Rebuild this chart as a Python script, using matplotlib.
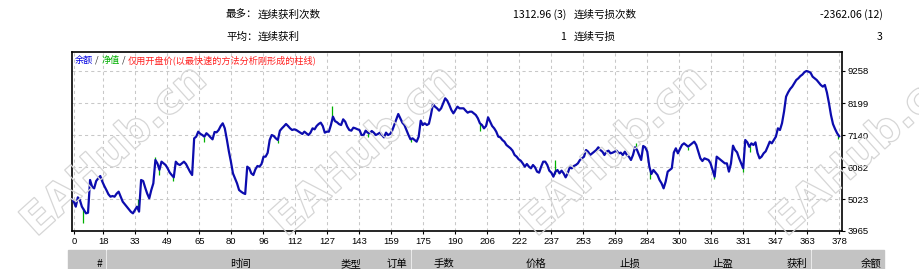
import matplotlib
matplotlib.use("Agg")
import numpy as np
import matplotlib.pyplot as plt
from matplotlib.patches import Rectangle, PathPatch
from matplotlib.textpath import TextPath
from matplotlib.font_manager import FontProperties
from matplotlib.transforms import Affine2D

plt.rcParams['font.family'] = ['Noto Sans CJK SC', 'DejaVu Sans']

# balance after each trade
balance = [
    5012, 4935, 4770, 5078, 4990, 4770, 4660, 4549, 4570, 5652,
    5430, 5376, 5620, 5707, 5784, 5600, 5450, 5320, 5180, 5100,
    5122, 5100, 5200, 5266, 5100, 4935, 4850, 4770, 4680, 4600,
    4549, 4660, 4770, 4605, 5652, 5620, 5400, 5200, 5046, 5321,
    5542, 6314, 6200, 5990, 6259, 6203, 6148, 6038, 5900, 5817,
    5740, 6258, 6181, 6148, 6203, 6258, 6181, 6050, 5920, 5817,
    7030, 7085, 7251, 7180, 7140, 7085, 7200, 7140, 7063, 6997,
    7240, 7230, 7306, 7438, 7527, 7361, 7000, 6600, 6258, 5872,
    5707, 5542, 5321, 5266, 5220, 5189, 6093, 6038, 5872, 5817,
    6005, 6115, 6093, 6181, 6424, 6424, 6550, 6975, 7140, 7107,
    7030, 6975, 7280, 7361, 7430, 7505, 7438, 7361, 7306, 7328,
    7306, 7260, 7218, 7174, 7251, 7196, 7140, 7218, 7361, 7328,
    7438, 7505, 7549, 7438, 7218, 7251, 7250, 7471, 7747, 7600,
    7560, 7500, 7471, 7659, 7582, 7416, 7306, 7284, 7383, 7361,
    7330, 7306, 7140, 7140, 7284, 7218, 7196, 7273, 7218, 7140,
    7174, 7218, 7140, 7063, 7218, 7140, 7174, 7284, 7471, 7659,
    7835, 7692, 7549, 7471, 7306, 7140, 6997, 7030, 6975, 6920,
    7085, 7615, 7471, 7527, 7471, 7510, 7802, 8166, 8078, 8023,
    7946, 8023, 8188, 8354, 8276, 8133, 7968, 7857, 7968, 8078,
    8023, 8023, 8023, 7946, 7879, 7912, 7912, 7857, 7802, 7692,
    7527, 7471, 7361, 7438, 7725, 7582, 7438, 7361, 7251, 7085,
    7063, 6975, 6920, 6810, 6755, 6700, 6622, 6479, 6424, 6336,
    6290, 6200, 6093, 6181, 6093, 6038, 6148, 6071, 5928, 5895,
    6093, 6258, 6258, 6150, 5961, 5895, 5762, 5928, 5983, 5872,
    5961, 5872, 5740, 5872, 6071, 6038, 6115, 6148, 6203, 6314,
    6369, 6424, 6644, 6589, 6479, 6534, 6589, 6644, 6733, 6644,
    6589, 6479, 6589, 6622, 6534, 6556, 6589, 6622, 6534, 6556,
    6479, 6589, 6479, 6424, 6314, 6479, 6733, 6644, 6480, 6314,
    6777, 6733, 6589, 6100, 5850, 5983, 5900, 5817, 5652, 5542,
    5376, 5597, 5928, 5983, 6038, 6560, 6700, 6534, 6677, 6810,
    6865, 6810, 6755, 6810, 6865, 6920, 6810, 6589, 6369, 6280,
    6369, 6340, 6314, 6203, 5983, 5762, 6424, 6369, 6314, 6259,
    6203, 6203, 5928, 6200, 6788, 6645, 6567, 6369, 6203, 6038,
    6975, 6900, 6750, 6865, 6810, 6898, 6550, 6369, 6424, 6534,
    6600, 6755, 6920, 6865, 6975, 7085, 7361, 7306, 7527, 7913,
    8409, 8550, 8662, 8740, 8850, 8960, 9015, 9090, 9140, 9220,
    9258, 9236, 9200, 9070, 9015, 8960, 8880, 8795, 8740, 8795,
    8550, 8200, 7800, 7500, 7340, 7200, 7100,
]

# equity excursions away from balance (green spikes)
eq_idx = [5.3, 32.3, 41, 42.6, 49.8, 65, 101, 127.5, 145, 166, 200,
          236.6, 276.3, 283.5, 302, 314.7, 328.7, 332.3, 375.6]
eq_val = [4218, 5012, 6400, 5817, 5630, 6920, 6865, 8100, 7063, 6920, 7284,
          6314, 6887, 5700, 6645, 5700, 5928, 6590, 7010]

y_ticks = [3965, 5023, 6082, 7140, 8199, 9258]
x_labels = ['0', '18', '33', '49', '65', '80', '96', '112', '127', '143', '159',
            '175', '190', '206', '222', '237', '253', '269', '284', '300',
            '316', '331', '347', '363', '378']

stats_left = [('最多：', '连续获利次数', '1312.96 (3)'),
              ('平均：', '连续获利', '1')]
stats_right = [('连续亏损次数', '-2362.06 (12)'),
               ('连续亏损', '3')]

header = ['#', '时间', '类型', '订单', '手数', '价格', '止损', '止盈', '获利', '余额']
col_edges = [68, 106.7, 255, 365, 411.7, 458, 550, 644, 737, 811.7, 885]

W, H = 919, 269
fig = plt.figure(figsize=(W / 100, H / 100), dpi=100)


def fx(x):
    return x / W


def fy(y):
    return 1 - y / H


ax = fig.add_axes([fx(71.7), fy(231), fx(842) - fx(71.7), fy(52) - fy(231)])

x = np.arange(len(balance))
ax.vlines(eq_idx, np.interp(eq_idx, x, balance), eq_val, color='#00b000',
          lw=0.9, zorder=2)
ax.plot(x, balance, color='#0c0cae', lw=1.6, solid_joinstyle='round', zorder=3)

ax.set_xlim(0, 377.4)
ax.set_ylim(3965, 9886)

# grid lines every 32 px, labelled by trade number
x_pos = [1.1] + [15.48 + 15.68 * i for i in range(24)]
ax.set_xticks(x_pos)
ax.set_xticklabels(x_labels)
ax.set_yticks(y_ticks)
ax.yaxis.tick_right()
ax.grid(True, color='#c8c8c8', linestyle=(0, (3, 3)), linewidth=0.75)
ax.set_axisbelow(True)
ax.tick_params(axis='both', length=2.5, width=0.8, pad=1.5, labelsize=6.8,
               colors='black')
for lab in ax.get_xticklabels() + ax.get_yticklabels():
    lab.set_fontfamily('Liberation Sans')
for sp in ax.spines.values():
    sp.set_linewidth(1.2)

# legend line inside the chart
leg = [(75, '余额', '#0000e0'), (95, '/', '#303030'), (102, '净值', '#00b000'),
       (122, '/', '#303030'), (128, '仅用开盘价(以最快速的方法分析刚形成的柱线)', '#ff2020')]
for px, txt, col in leg:
    fig.text(fx(px), fy(60.5), txt, color=col, fontsize=6.6, ha='left', va='center')

# summary rows above the chart
for row, (a, b, v) in enumerate(stats_left):
    yy = fy(15 + row * 22)
    fig.text(fx(226), yy, a, fontsize=7.6, ha='left', va='center')
    fig.text(fx(258), yy, b, fontsize=7.6, ha='left', va='center')
    fig.text(fx(566), yy, v, fontsize=7.6, ha='right', va='center')
for row, (b, v) in enumerate(stats_right):
    yy = fy(15 + row * 22)
    fig.text(fx(574), yy, b, fontsize=7.6, ha='left', va='center')
    fig.text(fx(883), yy, v, fontsize=7.6, ha='right', va='center')

# table header strip
for i, name in enumerate(header):
    l, r = col_edges[i], col_edges[i + 1]
    fig.patches.append(Rectangle((fx(l), 0), fx(r - l - 1.5), fy(250),
                                 transform=fig.transFigure, color='#c3c3c3',
                                 zorder=0))
    fig.text(fx(r - 4), fy(267), name, fontsize=7.5, ha='right', va='baseline')

# EAHub.cn watermark outlines
tp = TextPath((0, 0), 'EAHub.cn', size=43,
              prop=FontProperties(family='DejaVu Sans', weight='bold'))
ext = tp.get_extents()
cx, cy = (ext.x0 + ext.x1) / 2, (ext.y0 + ext.y1) / 2
for px in [112, 362, 612, 862]:
    tr = Affine2D().translate(-cx, -cy).rotate_deg(42).translate(px, H - 148)
    fig.add_artist(PathPatch(tp, transform=tr, facecolor='none',
                             edgecolor='#d6d6d6', lw=0.9, zorder=5))

fig.savefig('out.png', dpi=100)
